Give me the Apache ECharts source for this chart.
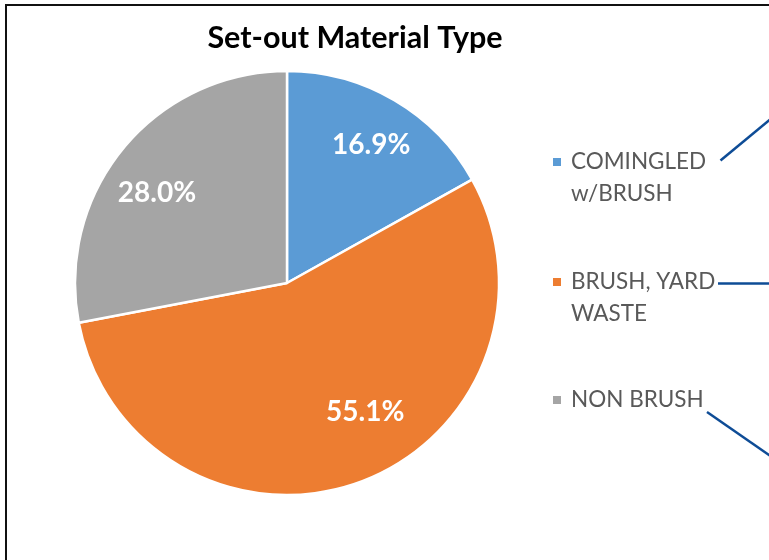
<!DOCTYPE html>
<html>
<head>
<meta charset="utf-8">
<script src="https://cdn.jsdelivr.net/npm/echarts@6/dist/echarts.min.js"></script>
<style>
  html, body { margin: 0; padding: 0; background: #fff; }
  #chart { width: 769px; height: 560px; }
</style>
</head>
<body>
<div id="chart"></div>
<script>
// data
const categories = ['COMINGLED w/BRUSH', 'BRUSH, YARD WASTE', 'NON BRUSH']
const legendLines = [['COMINGLED', 'w/BRUSH'], ['BRUSH, YARD', 'WASTE'], ['NON BRUSH']]
const shares = [16.9, 55.1, 28.0]

// styles
const colors = ['#5B9BD5', '#ED7D31', '#A5A5A5']
const labelOffsets = [[29, -44], [41, 27], [-46, -21]]
const legendTops = [114, 234, 384]
const fontFamily = 'Lato, "Open Sans", sans-serif'

const chart = echarts.init(document.getElementById('chart'), null, { renderer: 'canvas' })

const legends = categories.map(function (name, i) {
  // a blank first line keeps the icon level with the first text line
  const lines = legendLines[i].length > 1 ? [' '].concat(legendLines[i]) : legendLines[i]
  return {
    orient: 'vertical',
    left: 551,
    top: legendTops[i],
    padding: 0,
    itemWidth: 10,
    itemHeight: 10,
    icon: 'rect',
    selectedMode: false,
    data: [name],
    formatter: function () { return lines.join('\n') },
    textStyle: {
      fontFamily: fontFamily,
      fontSize: 22.5,
      lineHeight: 32,
      color: '#595959',
      padding: [0, 0, 0, 4]
    }
  }
})

chart.setOption({
  animation: false,
  color: colors,
  title: {
    text: 'Set-out Material Type',
    left: 350,
    textAlign: 'center',
    top: 18,
    textStyle: {
      fontFamily: fontFamily,
      fontWeight: 'bold',
      fontSize: 30.5,
      color: '#000'
    }
  },
  legend: legends,
  series: [{
    type: 'pie',
    center: [287, 283],
    radius: 212,
    startAngle: 90,
    clockwise: true,
    itemStyle: { borderColor: '#fff', borderWidth: 2.5 },
    label: {
      show: true,
      position: 'inside',
      formatter: function (p) { return p.value.toFixed(1) + '%' },
      fontFamily: fontFamily,
      fontWeight: 'bold',
      fontSize: 28,
      color: '#fff'
    },
    labelLine: { show: false },
    emphasis: { disabled: true },
    data: categories.map(function (name, i) {
      return { name: name, value: shares[i], label: { offset: labelOffsets[i] } }
    })
  }],
  graphic: [
    {
      type: 'rect',
      shape: { x: 6, y: 5, width: 900, height: 700 },
      style: { fill: 'none', stroke: '#111', lineWidth: 2 }
    },
    {
      type: 'line',
      shape: { x1: 720.5, y1: 160.5, x2: 785, y2: 107 },
      style: { stroke: '#0E4C96', lineWidth: 2.5 }
    },
    {
      type: 'line',
      shape: { x1: 718, y1: 283.5, x2: 785, y2: 283.5 },
      style: { stroke: '#0E4C96', lineWidth: 2.5 }
    },
    {
      type: 'line',
      shape: { x1: 707, y1: 412, x2: 785, y2: 466 },
      style: { stroke: '#0E4C96', lineWidth: 2.5 }
    }
  ]
})

window.onresize = function () {
  chart.resize()
}
</script>
</body>
</html>
